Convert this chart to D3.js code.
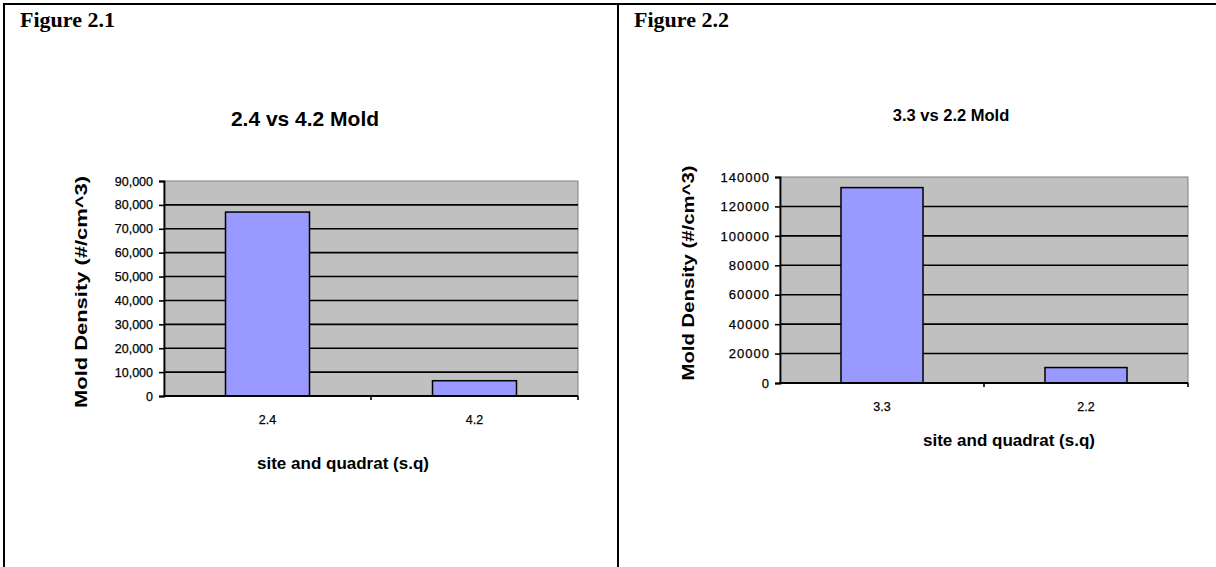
<!DOCTYPE html>
<html>
<head>
<meta charset="utf-8">
<script src="https://cdn.jsdelivr.net/npm/d3@7"></script>
<style>
  html, body { margin: 0; padding: 0; background: #fff; }
  svg { display: block; }
</style>
</head>
<body>
<svg id="chart" width="1216" height="567"></svg>
<script>
// ---- Data ----
const fig1Categories = ["2.4", "4.2"];
const fig1Values = [77000, 6400];
const fig1Ticks = [0, 10000, 20000, 30000, 40000, 50000, 60000, 70000, 80000, 90000];

const fig2Categories = ["3.3", "2.2"];
const fig2Values = [132800, 10500];
const fig2Ticks = [0, 20000, 40000, 60000, 80000, 100000, 120000, 140000];

const svg = d3.select("#chart");
const sans = "'Liberation Sans', Arial, sans-serif";
const serif = "'Liberation Serif', 'Times New Roman', serif";

// ---- table borders ----
svg.append("line").attr("x1", 4).attr("x2", 1216).attr("y1", 4).attr("y2", 4).attr("stroke", "#000").attr("stroke-width", 2);
svg.append("line").attr("x1", 4).attr("x2", 4).attr("y1", 3).attr("y2", 567).attr("stroke", "#000").attr("stroke-width", 2);
svg.append("line").attr("x1", 618).attr("x2", 618).attr("y1", 3).attr("y2", 567).attr("stroke", "#000").attr("stroke-width", 2);

function drawChart(cfg) {
  const g = svg.append("g");
  const x = d3.scaleBand().domain(cfg.categories).range([cfg.left, cfg.right]).paddingInner(0).paddingOuter(0);
  const y = d3.scaleLinear().domain([0, cfg.ticks[cfg.ticks.length - 1]]).range([cfg.bottom, cfg.top]);

  // figure label
  g.append("text").attr("x", cfg.figX).attr("y", 27)
    .attr("font-family", serif).attr("font-weight", "bold").attr("font-size", 22)
    .text(cfg.figLabel);

  // title
  g.append("text").attr("x", cfg.titleX).attr("y", cfg.titleY).attr("text-anchor", "middle")
    .attr("font-family", sans).attr("font-weight", "bold").attr("font-size", cfg.titleSize)
    .text(cfg.title);

  // plot area
  g.append("rect").attr("x", cfg.left).attr("y", cfg.top)
    .attr("width", cfg.right - cfg.left).attr("height", cfg.bottom - cfg.top)
    .attr("fill", "#c0c0c0").attr("stroke", "#808080").attr("stroke-width", 1);

  // gridlines
  g.append("g").selectAll("line").data(cfg.ticks.filter(t => t > 0 && t < cfg.ticks[cfg.ticks.length - 1]))
    .join("line")
    .attr("x1", cfg.left).attr("x2", cfg.right)
    .attr("y1", d => y(d)).attr("y2", d => y(d))
    .attr("stroke", "#000").attr("stroke-width", 1.6);

  // bars
  const bw = cfg.barWidth;
  g.append("g").selectAll("rect").data(cfg.categories.map((c, i) => ({ c, v: cfg.values[i] })))
    .join("rect")
    .attr("x", d => x(d.c) + x.bandwidth() / 2 - bw / 2)
    .attr("y", d => y(d.v))
    .attr("width", bw)
    .attr("height", d => cfg.bottom - y(d.v))
    .attr("fill", "#9999ff").attr("stroke", "#000").attr("stroke-width", 1.5);

  // y axis
  const yAxis = d3.axisLeft(y).tickValues(cfg.ticks).tickFormat(cfg.fmt).tickSize(5).tickPadding(cfg.tickPad);
  const ya = g.append("g").attr("transform", `translate(${cfg.left},0)`).call(yAxis);
  ya.select(".domain").attr("stroke", "#000").attr("stroke-width", 1.8);
  ya.selectAll(".tick line").attr("stroke", "#000").attr("stroke-width", 1.6);
  ya.selectAll("text").attr("font-family", sans).attr("font-size", cfg.tickSize).attr("fill", "#000")
    .attr("letter-spacing", cfg.tickSpacing)
    .attr("stroke", "#000").attr("stroke-width", 0.25);

  // x axis: line, ticks between categories
  g.append("line").attr("x1", cfg.left - 1).attr("x2", cfg.right).attr("y1", cfg.bottom).attr("y2", cfg.bottom)
    .attr("stroke", "#000").attr("stroke-width", 1.8);
  const bounds = [cfg.left + x.bandwidth(), cfg.right];
  g.append("g").selectAll("line").data(bounds).join("line")
    .attr("x1", d => d).attr("x2", d => d).attr("y1", cfg.bottom).attr("y2", cfg.bottom + 4)
    .attr("stroke", "#000").attr("stroke-width", 1.6);
  g.append("g").selectAll("text").data(cfg.categories).join("text")
    .attr("x", d => x(d) + x.bandwidth() / 2).attr("y", cfg.bottom + cfg.xLabelOffset)
    .attr("text-anchor", "middle").attr("font-family", sans).attr("font-size", 12.5)
    .attr("stroke", "#000").attr("stroke-width", 0.25)
    .text(d => d);

  // axis titles
  g.append("text").attr("x", cfg.xTitleX).attr("y", cfg.xTitleY).attr("text-anchor", "middle")
    .attr("font-family", sans).attr("font-weight", "bold").attr("font-size", 17)
    .text("site and quadrat (s.q)");
  g.append("text")
    .attr("transform", `translate(${cfg.yTitleX},${cfg.yTitleY}) rotate(-90)`)
    .attr("text-anchor", "middle").attr("font-family", sans).attr("font-weight", "bold").attr("font-size", 17)
    .attr("textLength", cfg.yTitleLen).attr("lengthAdjust", "spacingAndGlyphs")
    .text("Mold Density (#/cm^3)");
}

drawChart({
  categories: fig1Categories, values: fig1Values, ticks: fig1Ticks,
  fmt: d3.format(","), tickSize: 12.5, tickSpacing: 0, tickPad: 6, xLabelOffset: 28,
  left: 164, right: 578, top: 181, bottom: 396, barWidth: 84,
  figLabel: "Figure 2.1", figX: 20,
  title: "2.4 vs 4.2 Mold", titleX: 305, titleY: 126, titleSize: 21,
  xTitleX: 343, xTitleY: 469, yTitleX: 87, yTitleY: 292, yTitleLen: 232
});

drawChart({
  categories: fig2Categories, values: fig2Values, ticks: fig2Ticks,
  fmt: d3.format("d"), tickSize: 13, tickSpacing: 1, tickPad: 5, xLabelOffset: 28,
  left: 780, right: 1188, top: 177, bottom: 383, barWidth: 82,
  figLabel: "Figure 2.2", figX: 634,
  title: "3.3 vs 2.2 Mold", titleX: 951, titleY: 121, titleSize: 16.5,
  xTitleX: 1009, xTitleY: 446, yTitleX: 694, yTitleY: 273, yTitleLen: 215
});
</script>
</body>
</html>
